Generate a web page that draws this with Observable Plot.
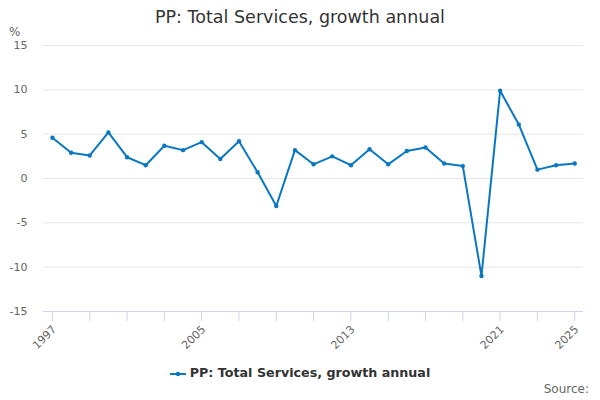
<!DOCTYPE html>
<html>
<head>
<meta charset="utf-8">
<script src="https://cdn.jsdelivr.net/npm/d3@7"></script>
<script src="https://cdn.jsdelivr.net/npm/@observablehq/plot@0.6"></script>
<style>
  html, body { margin: 0; padding: 0; background: #fff; }
  body { width: 600px; height: 400px; position: relative; overflow: hidden; font-family: "DejaVu Sans", sans-serif; }
  #title { position: absolute; top: 7px; left: 0; width: 600px; text-align: center; font-size: 17.5px; color: #333; }
  #unit { position: absolute; top: 25px; left: 9px; font-size: 12px; color: #666; }
  #chart { position: absolute; top: 0; left: 0; }
  #legend { position: absolute; top: 365px; left: 0; width: 600px; text-align: center; font-size: 12.7px; font-weight: bold; color: #333; }
  #legend svg { vertical-align: middle; margin-right: 4px; }
  #source { position: absolute; top: 382px; right: 11px; font-size: 12px; color: #666; }
</style>
</head>
<body>
<div id="title">PP: Total Services, growth annual</div>
<div id="unit">%</div>
<div id="chart"></div>
<div id="legend"><svg width="16" height="10"><line x1="0" y1="5" x2="16" y2="5" stroke="#0a77c2" stroke-width="2"/><circle cx="8" cy="5" r="2.2" fill="#0a77c2"/></svg>PP: Total Services, growth annual</div>
<div id="source">Source:</div>
<script>
const years = [1997, 1998, 1999, 2000, 2001, 2002, 2003, 2004, 2005, 2006, 2007, 2008, 2009, 2010,
  2011, 2012, 2013, 2014, 2015, 2016, 2017, 2018, 2019, 2020, 2021, 2022, 2023, 2024, 2025];
const values = [4.6, 2.9, 2.6, 5.2, 2.4, 1.5, 3.7, 3.2, 4.1, 2.2, 4.2, 0.7, -3.1, 3.2,
  1.6, 2.5, 1.5, 3.3, 1.6, 3.1, 3.5, 1.7, 1.4, -11.0, 9.9, 6.1, 1.0, 1.5, 1.7];
const yTicks = [-15, -10, -5, 0, 5, 10, 15];
const xTickMarks = [1997, 1999, 2001, 2003, 2005, 2007, 2009, 2011, 2013, 2015, 2017, 2019, 2021, 2023, 2025];
const xLabels = [1997, 2005, 2013, 2021, 2025];

const data = years.map((y, i) => ({year: y, value: values[i]}));
const color = "#0a77c2";

const chart = Plot.plot({
  width: 600,
  height: 400,
  marginLeft: 43,
  marginRight: 17,
  marginTop: 45,
  marginBottom: 89,
  style: {fontFamily: "DejaVu Sans, sans-serif", fontSize: "11px", background: "transparent"},
  x: {domain: [1996.52, 2025.47], axis: null},
  y: {domain: [-15, 15], axis: null},
  marks: [
    Plot.ruleY(yTicks.filter(t => t > -15), {stroke: "#e6e6e6", strokeWidth: 1}),
    Plot.ruleY([-15], {stroke: "#ccd6eb", strokeWidth: 1}),
    Plot.axisY(yTicks, {tickSize: 0, tickPadding: 16, fill: "#666", fontSize: 11, label: null, tickFormat: d => String(d)}),
    Plot.axisX(xTickMarks, {tickSize: 10, stroke: "#ccd6eb", label: null, tickFormat: () => "", anchor: "bottom"}),
    Plot.text(xLabels, {x: d => d, y: () => -15, text: d => String(d), rotate: -45, textAnchor: "end",
      dy: 16, dx: 2, fill: "#666", fontSize: 11}),
    Plot.line(data, {x: "year", y: "value", stroke: color, strokeWidth: 2}),
    Plot.dot(data, {x: "year", y: "value", fill: color, r: 2.2})
  ]
});
document.getElementById("chart").appendChild(chart);
</script>
</body>
</html>
